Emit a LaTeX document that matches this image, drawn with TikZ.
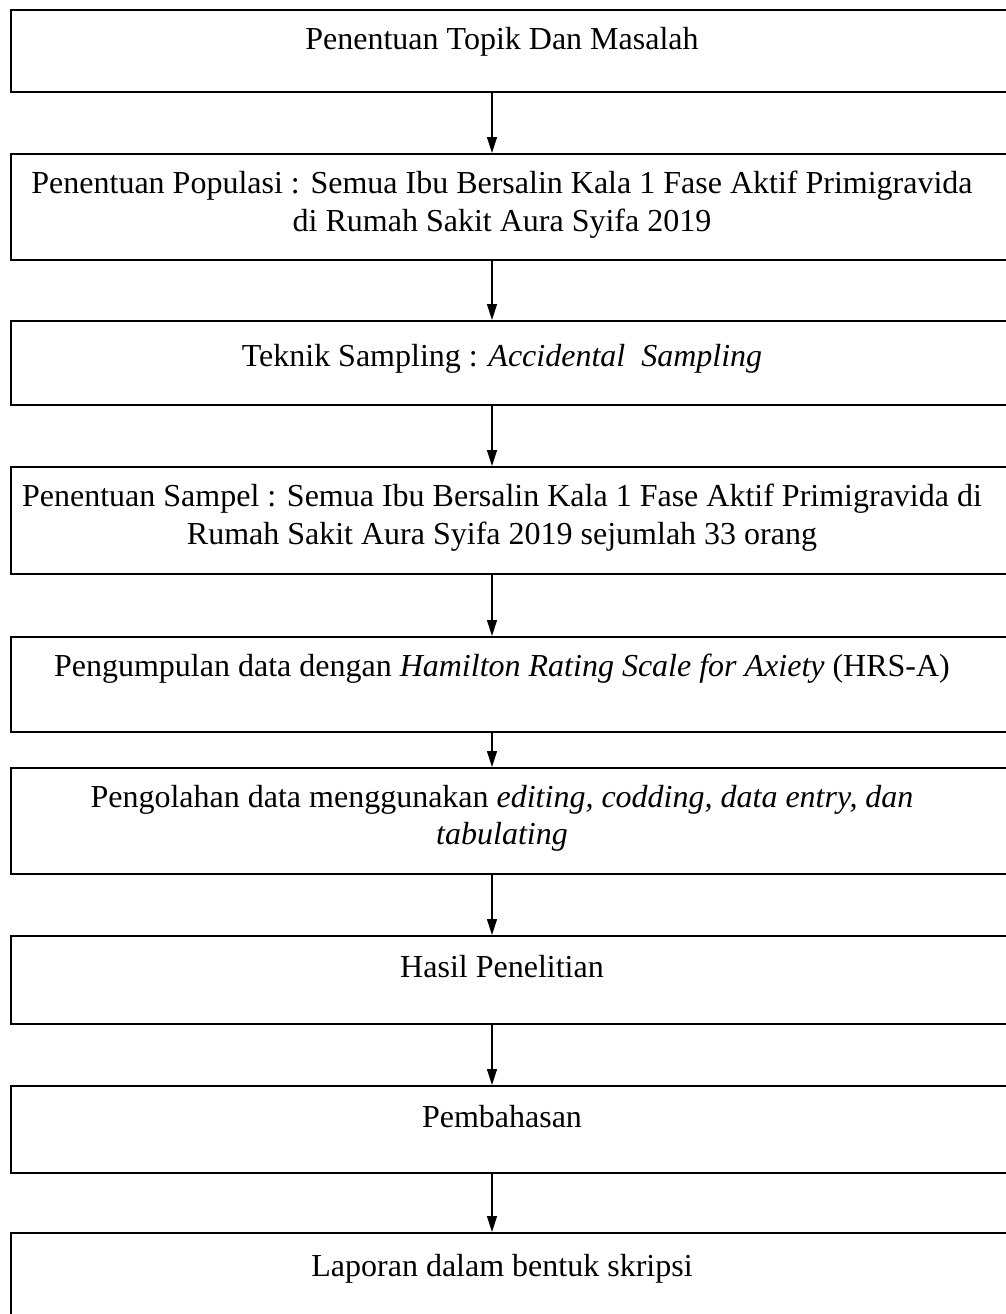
\documentclass[tikz,border=0pt]{standalone}
\usepackage{fontspec}
\setmainfont{Liberation Serif}
\usetikzlibrary{arrows.meta}
\tikzset{
  kotak/.style={draw, line width=1pt, minimum width=501pt, anchor=north west, inner sep=0pt},
  isi/.style={anchor=north, align=center, inner sep=0pt, font=\fontsize{16}{18.6}\selectfont},
  panah/.style={-{Triangle[width=5pt,length=8pt]}, line width=0.7pt}
}

\begin{document}
\begin{tikzpicture}
		%%%%% START %%%%%
		
		\useasboundingbox (0,0) rectangle (503pt,-657pt);
		\clip (0,0) rectangle (503pt,-657pt);
		\coordinate (ax) at (246pt,0);
		\coordinate (tx) at (251pt,0);
		
		\node[kotak, minimum height=41pt] (b1) at (5pt,-4.5pt) {};
		\node[kotak, minimum height=53pt] (b2) at (5pt,-76.5pt) {};
		\node[kotak, minimum height=42pt] (b3) at (5pt,-160pt) {};
		\node[kotak, minimum height=53.5pt] (b4) at (5pt,-233pt) {};
		\node[kotak, minimum height=47.5pt] (b5) at (5pt,-318pt) {};
		\node[kotak, minimum height=53pt] (b6) at (5pt,-383.5pt) {};
		\node[kotak, minimum height=44pt] (b7) at (5pt,-467.5pt) {};
		\node[kotak, minimum height=43.5pt] (b8) at (5pt,-542.5pt) {};
		\node[kotak, minimum height=60pt] (b9) at (5pt,-616pt) {};
		
		\node[isi] (t1) at ([yshift=-9pt]b1.north -| tx) {Penentuan Topik Dan Masalah};
		\node[isi] (t2) at ([yshift=-9pt]b2.north -| tx) {Penentuan Populasi : Semua Ibu Bersalin Kala 1 Fase Aktif Primigravida\\di Rumah Sakit Aura Syifa 2019};
		\node[isi] (t3) at ([yshift=-12pt]b3.north -| tx) {Teknik Sampling : \textit{Accidental\ \ Sampling}};
		\node[isi] (t4) at ([yshift=-9pt]b4.north -| tx) {Penentuan Sampel : Semua Ibu Bersalin Kala 1 Fase Aktif Primigravida di\\Rumah Sakit Aura Syifa 2019 sejumlah 33 orang};
		\node[isi] (t5) at ([yshift=-9pt]b5.north -| tx) {Pengumpulan data dengan \textit{Hamilton Rating Scale for Axiety} (HRS-A)};
		\node[isi] (t6) at ([yshift=-9pt]b6.north -| tx) {Pengolahan data menggunakan \textit{editing, codding, data entry, dan}\\\textit{tabulating}};
		\node[isi] (t7) at ([yshift=-10pt]b7.north -| tx) {Hasil Penelitian};
		\node[isi] (t8) at ([yshift=-10pt]b8.north -| tx) {Pembahasan};
		\node[isi] (t9) at ([yshift=-11pt]b9.north -| tx) {Laporan dalam bentuk skripsi};
		
		\foreach \a/\b in {b1/b2,b2/b3,b3/b4,b4/b5,b5/b6,b6/b7,b7/b8,b8/b9}
			\draw[panah] (\a.south -| ax) -- (\b.north -| ax);
		
		%%%%% END %%%%%
\end{tikzpicture}
\end{document}
